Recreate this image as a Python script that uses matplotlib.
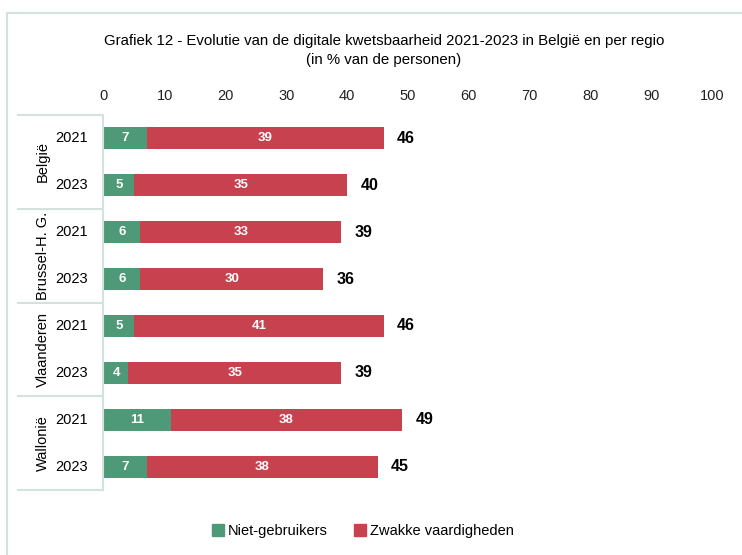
import matplotlib.pyplot as plt
from matplotlib.lines import Line2D
from matplotlib.patches import Patch

plt.rcParams['font.family'] = ['Liberation Sans', 'DejaVu Sans']

regions = ['België', 'Brussel-H. G.', 'Vlaanderen', 'Wallonië']
years = ['2021', '2023']
niet_gebruikers = [7, 5, 6, 6, 5, 4, 11, 7]
zwakke = [39, 35, 33, 30, 41, 35, 38, 38]
totals = [46, 40, 39, 36, 46, 39, 49, 45]

green = '#4e9a78'
red = '#c8414f'
line_col = '#d3e2de'

fig = plt.figure(figsize=(7.42, 5.55), dpi=100)
ax = fig.add_axes([104 / 742, 1 - 490 / 555, 608 / 742, 375 / 555])

rows = list(range(len(totals)))
ax.barh(rows, niet_gebruikers, height=0.47, color=green)
ax.barh(rows, zwakke, left=niet_gebruikers, height=0.47, color=red)

for i in rows:
    ax.text(niet_gebruikers[i] / 2, i, str(niet_gebruikers[i]), ha='center', va='center',
            color='white', fontsize=9.5, fontweight='bold')
    ax.text(niet_gebruikers[i] + zwakke[i] / 2, i, str(zwakke[i]), ha='center', va='center',
            color='white', fontsize=9.5, fontweight='bold')
    ax.text(totals[i] + 2.2, i, str(totals[i]), ha='left', va='center',
            color='black', fontsize=11.5, fontweight='bold')

ax.set_xlim(0, 100)
ax.set_ylim(len(totals) - 0.5, -0.5)
ax.set_xticks(range(0, 101, 10))
ax.xaxis.tick_top()
ax.tick_params(axis='x', length=0, labelsize=10.5, pad=9, labelcolor='#222222')
ax.set_yticks([])
for s in ax.spines.values():
    s.set_visible(False)

# category boxes on the left
x_left = -14.1
for g in range(len(regions) + 1):
    y = g * 2 - 0.5
    ax.plot([x_left, -0.15], [y, y], color=line_col, lw=1.5, clip_on=False)
ax.plot([-0.15, -0.15], [-0.5, len(totals) - 0.5], color=line_col, lw=1.5, clip_on=False)
for g, name in enumerate(regions):
    ax.text(-10.0, g * 2 + 0.5, name, rotation=90, ha='center', va='center', fontsize=10.5)
    for k, yr in enumerate(years):
        ax.text(-5.3, g * 2 + k, yr, ha='center', va='center', fontsize=10.5)

fig.text(384 / 742, 1 - 41 / 555, 'Grafiek 12 - Evolutie van de digitale kwetsbaarheid 2021-2023 in België en per regio',
         ha='center', va='center', fontsize=10.8)
fig.text(384 / 742, 1 - 60 / 555, '(in % van de personen)', ha='center', va='center', fontsize=10.8)

# outer frame lines
fig.add_artist(Line2D([7 / 742, 7 / 742], [0, 1 - 13 / 555], color=line_col, lw=1.5))
fig.add_artist(Line2D([7 / 742, 1], [1 - 13 / 555, 1 - 13 / 555], color=line_col, lw=1.5))

handles = [Patch(color=green), Patch(color=red)]
fig.legend(handles, ['Niet-gebruikers', 'Zwakke vaardigheden'], loc='center',
           bbox_to_anchor=(363 / 742, 1 - 531 / 555), ncol=2, frameon=False,
           handlelength=0.8, handleheight=0.8, handletextpad=0.3, columnspacing=1.8, fontsize=10.5)

fig.savefig('out.png', dpi=100)
